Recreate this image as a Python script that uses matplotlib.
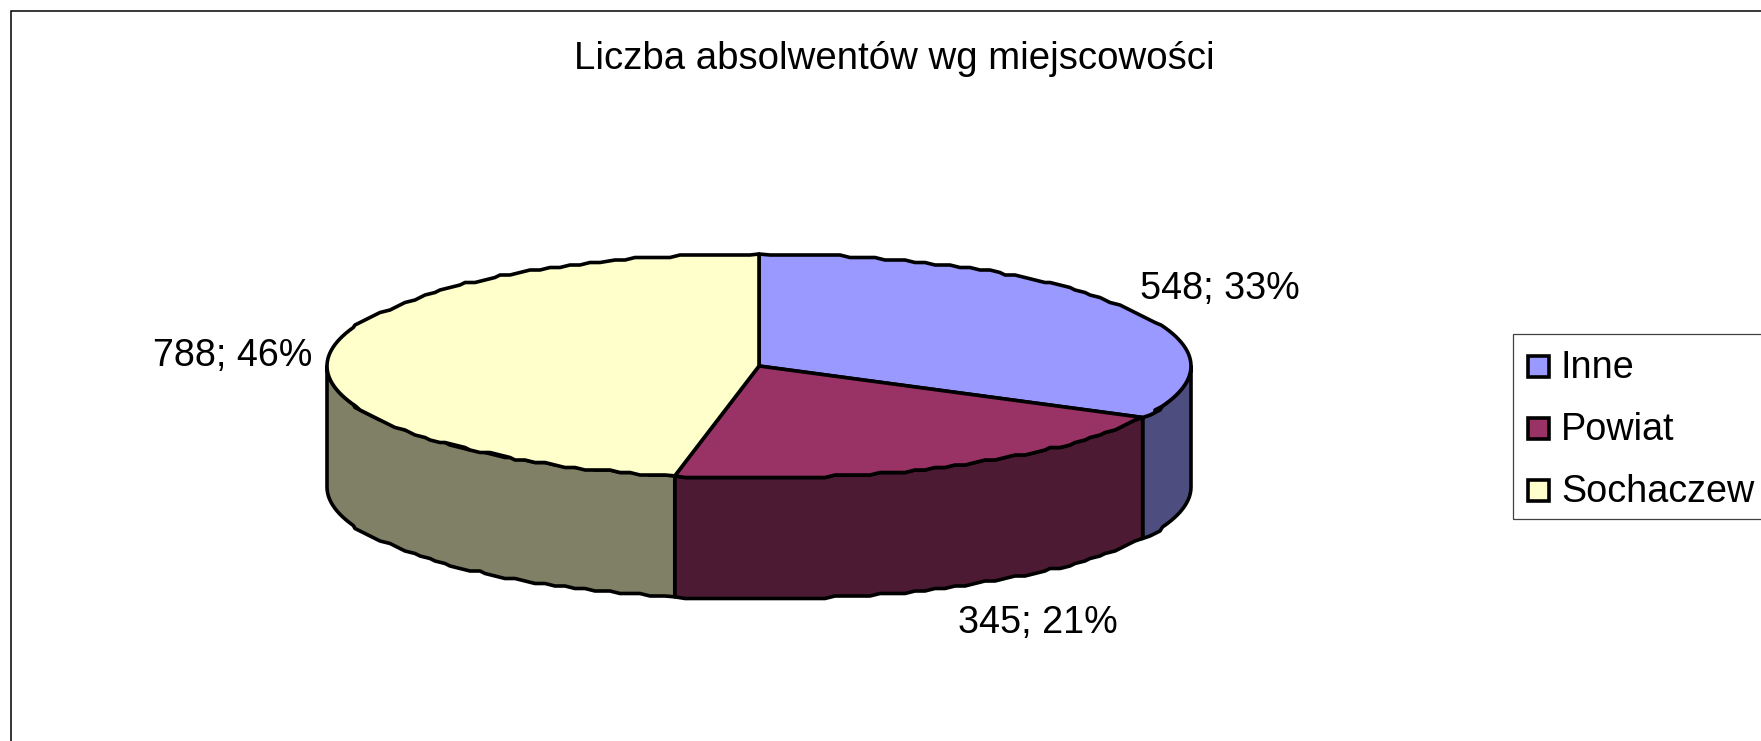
"""Pseudo-3D pie chart of graduates by town."""

import numpy as np
import matplotlib
matplotlib.use("Agg")
import matplotlib.pyplot as plt
from matplotlib.patches import Polygon, Rectangle

plt.rcParams['font.family'] = ['Liberation Sans', 'DejaVu Sans']

title = "Liczba absolwentów wg miejscowości"
categories = ["Inne", "Powiat", "Sochaczew"]
values = [548, 345, 788]
percents = [33, 21, 46]
top_colors = ["#9999FF", "#993366", "#FFFFCC"]
side_colors = ["#4D4D80", "#4D1A33", "#808066"]

# everything below is in pixels of the 1761x741 image
CX, CY, RX, RY, DEPTH = 759, 366, 432, 112, 121
GRID_X, GRID_Y = 5, 2.5
LW = 2.6


def rim(t0, t1, drop=0):
    """Points on the ellipse between two angles (deg, clockwise from top)."""
    n = max(2, int(abs(t1 - t0) / 1.5))
    t = np.radians(np.linspace(t0, t1, n))
    x = CX + RX * np.sin(t)
    y = CY - RY * np.cos(t)
    # the source is a low-res metafile, so the outline is stepped
    xq = np.round(x / GRID_X) * GRID_X
    yq = np.round(y / GRID_Y) * GRID_Y
    # keep the far left and right of the ellipse where they belong
    side = np.abs(np.sin(t)) > 0.93
    xq[side] = x[side]
    yq[side] = y[side]
    xq[[0, -1]] = x[[0, -1]]
    yq[[0, -1]] = y[[0, -1]]
    return np.column_stack([xq, yq + drop])


fig = plt.figure(figsize=(17.61, 7.41), dpi=100)
ax = fig.add_axes([0, 0, 1, 1])
ax.set_xlim(0, 1761)
ax.set_ylim(741, 0)
ax.axis('off')

# chart frame runs off the right and bottom edges
ax.add_patch(Rectangle((10.5, 10.5), 1800, 800, fc='white', ec='black', lw=1.1))

edges = 360 * np.cumsum([0] + values) / sum(values)

# side walls first, only the part facing the viewer
for i in range(len(values)):
    a, b = max(edges[i], 90), min(edges[i + 1], 270)
    if b <= a:
        continue
    upper = rim(a, b)
    lower = rim(a, b, DEPTH)
    ax.add_patch(Polygon(np.vstack([upper, lower[::-1]]), closed=True,
                         fc=side_colors[i], ec='black', lw=LW, joinstyle='round'))

# top faces
for i in range(len(values)):
    pts = np.vstack([[CX, CY], rim(edges[i], edges[i + 1])])
    ax.add_patch(Polygon(pts, closed=True, fc=top_colors[i], ec='black',
                         lw=LW, joinstyle='round'))

ax.text(894, 59, title, fontsize=27.6, ha='center', va='center')

label_pos = [(1220, 289), (1038, 623), (233, 356)]
for v, p, (lx, ly) in zip(values, percents, label_pos):
    ax.text(lx, ly, f"{v}; {p}%", fontsize=27.2, ha='center', va='center')

# legend box, also cut by the right edge
ax.add_patch(Rectangle((1513, 333.5), 400, 185, fc='white', ec='#404040', lw=0.9))
for i, name in enumerate(categories):
    y = 367 + 62 * i
    ax.add_patch(Rectangle((1527.5, y - 11), 21, 21, fc=top_colors[i], ec='black', lw=LW))
    ax.text(1561, y + 1, name, fontsize=27.2, ha='left', va='center')

fig.savefig("out.png", dpi=100)
plt.close(fig)
